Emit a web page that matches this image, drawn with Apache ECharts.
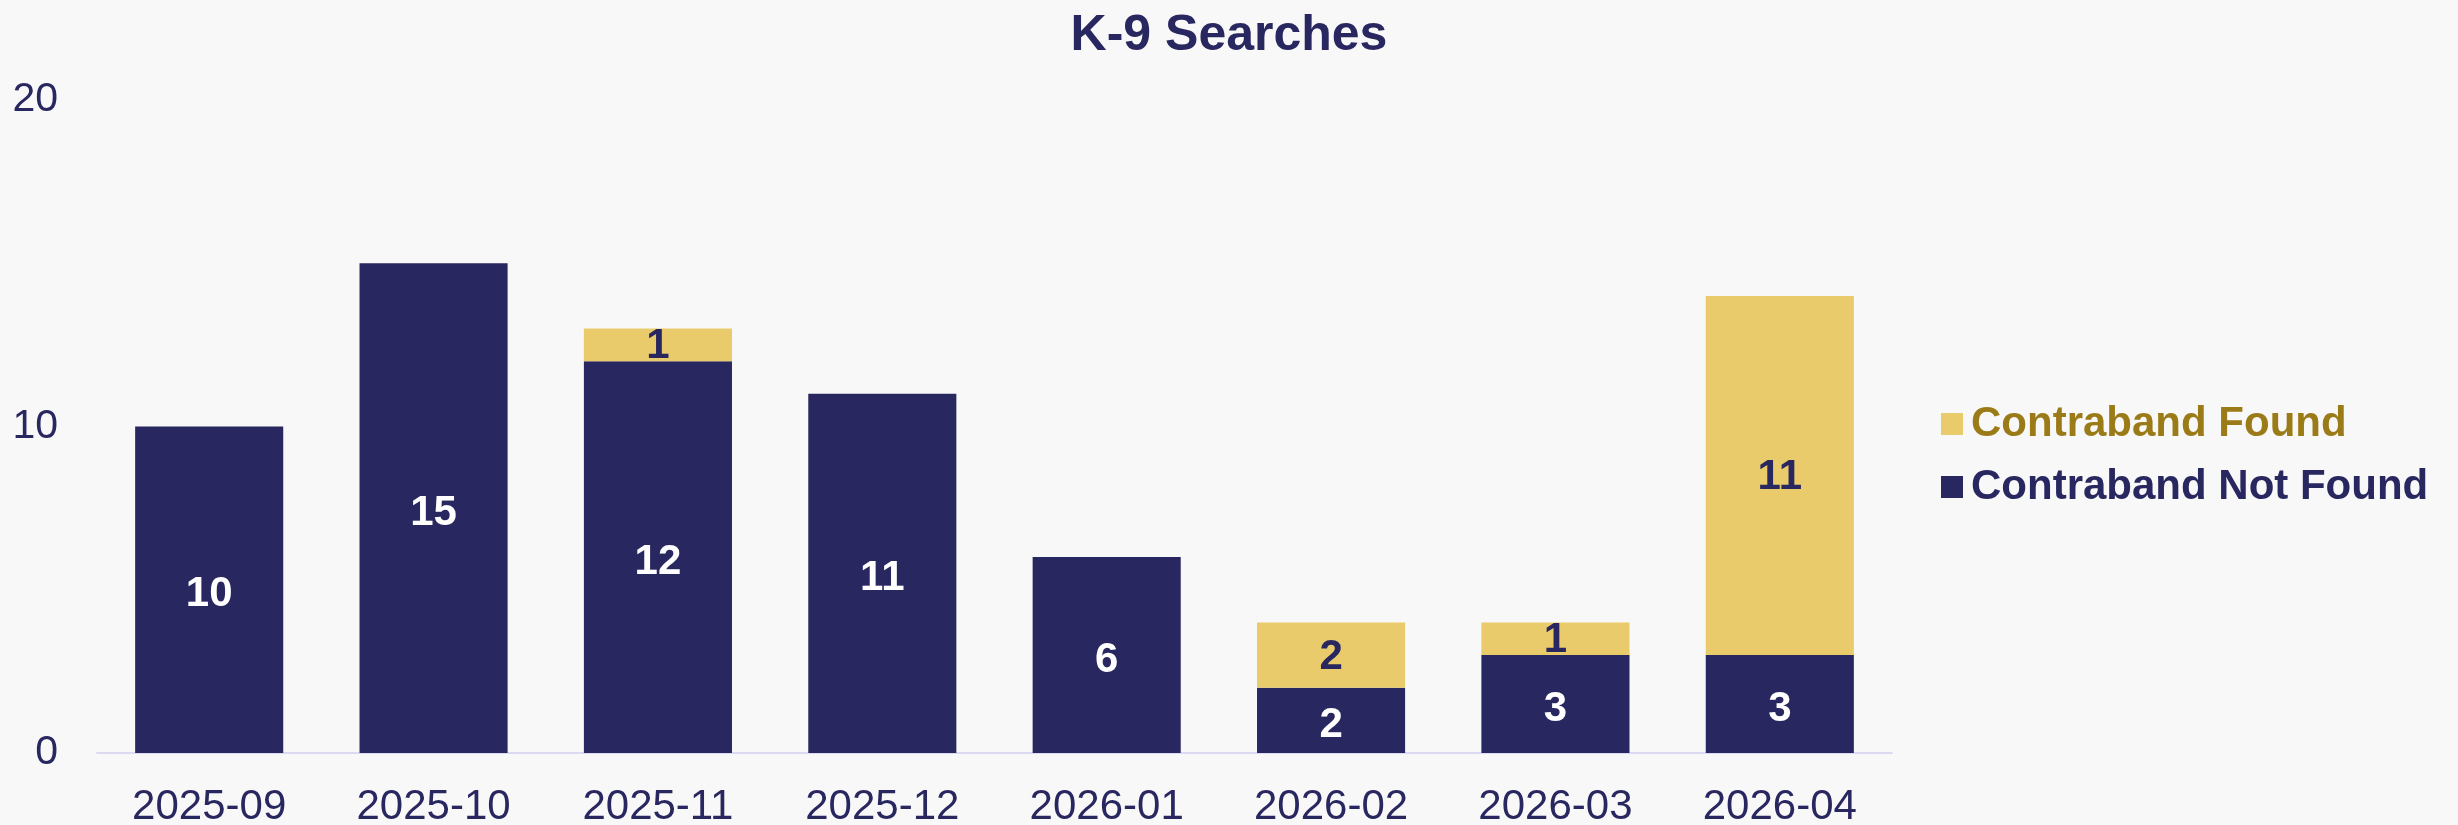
<!DOCTYPE html>
<html>
<head>
    <meta charset="UTF-8">
    <title>K-9 Searches</title>
    <script src="https://cdn.jsdelivr.net/npm/echarts@6/dist/echarts.min.js"></script>
    <style>
        html, body { margin: 0; padding: 0; background: #f8f8f8; }
    </style>
</head>
<body>
<div id="main" style="width: 2458px;height:825px;"></div>

<script type="text/javascript">
    // data
    var months = ['2025-09', '2025-10', '2025-11', '2025-12', '2026-01', '2026-02', '2026-03', '2026-04'];
    var notFound = [10, 15, 12, 11, 6, 2, 3, 3];
    var found = [0, 0, 1, 0, 0, 2, 1, 11];

    var navy = '#29275f';
    var gold = '#eacb6b';
    var font = "'Liberation Sans', Arial, sans-serif";

    var myChart = echarts.init(document.getElementById('main'));

    // hide labels for empty segments
    function hideZero(p) {
        return p.value ? p.value : '';
    }

    var option = {
        backgroundColor: '#f8f8f8',
        animation: false,
        title: {
            text: 'K-9 Searches',
            left: 'center',
            top: 6,
            textStyle: {
                color: navy,
                fontSize: 50,
                fontWeight: 'bold',
                fontFamily: font
            }
        },
        legend: {
            orient: 'vertical',
            left: 1936,
            top: 398,
            itemWidth: 22,
            itemHeight: 22,
            itemGap: 21,
            icon: 'rect',
            textStyle: {
                fontSize: 42,
                fontWeight: 'bold',
                fontFamily: font,
                padding: [0, 0, 0, 3]
            },
            data: [
                {name: 'Contraband Found', textStyle: {color: '#9b7b17'}},
                {name: 'Contraband Not Found', textStyle: {color: navy}}
            ]
        },
        grid: {
            left: 97,
            right: 566,
            top: 100,
            bottom: 72,
            containLabel: false,
            outerBoundsMode: 'none'
        },
        xAxis: {
            type: 'category',
            data: months,
            axisLine: {lineStyle: {color: '#dcdaf0', width: 2}},
            axisTick: {show: false},
            axisLabel: {
                color: navy,
                fontSize: 42,
                fontFamily: font,
                margin: 33
            }
        },
        yAxis: {
            type: 'value',
            min: 0,
            max: 20,
            interval: 10,
            splitLine: {show: false},
            axisLine: {show: false},
            axisTick: {show: false},
            axisLabel: {
                color: navy,
                fontSize: 41,
                fontFamily: font,
                margin: 39
            }
        },
        series: [
            {
                name: 'Contraband Not Found',
                type: 'bar',
                stack: 'total',
                barCategoryGap: '34%',
                data: notFound,
                itemStyle: {color: navy},
                label: {
                    show: true,
                    position: 'inside',
                    offset: [0, 5],
                    color: '#ffffff',
                    fontSize: 42,
                    fontWeight: 'bold',
                    fontFamily: font,
                    formatter: hideZero
                }
            },
            {
                name: 'Contraband Found',
                type: 'bar',
                stack: 'total',
                barCategoryGap: '34%',
                data: found,
                itemStyle: {color: gold},
                label: {
                    show: true,
                    position: 'inside',
                    offset: [0, 2],
                    color: navy,
                    fontSize: 42,
                    fontWeight: 'bold',
                    fontFamily: font,
                    formatter: hideZero
                }
            }
        ]
    };

    myChart.setOption(option);
</script>
</body>
</html>
